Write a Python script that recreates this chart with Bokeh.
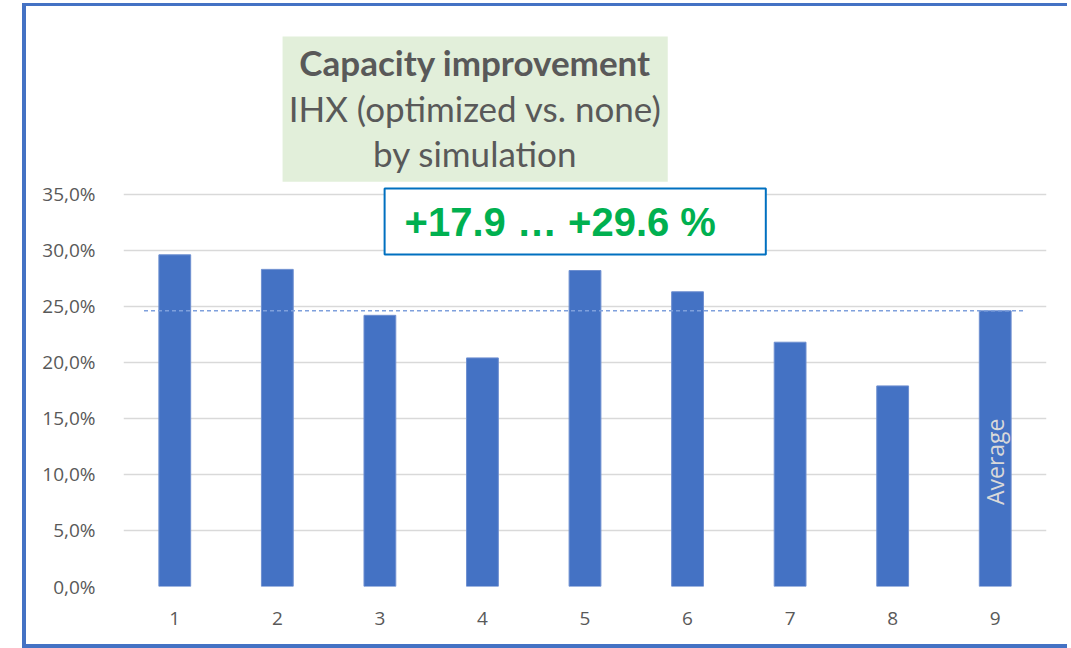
import math
from bokeh.plotting import figure
from bokeh.models import FixedTicker, Range1d, BoxAnnotation, Label
from bokeh.embed import file_html
from bokeh.resources import INLINE

# ---- data ----
cats = [1, 2, 3, 4, 5, 6, 7, 8, 9]
x_tick_labels = ["1", "2", "3", "4", "5", "6", "7", "8", "9"]
values = [29.6, 28.3, 24.2, 20.4, 28.2, 26.3, 21.8, 17.9, 24.6]   # percent
y_ticks = [0, 5, 10, 15, 20, 25, 30, 35]
y_tick_labels = ["0,0%", "5,0%", "10,0%", "15,0%", "20,0%", "25,0%", "30,0%", "35,0%"]
title_lines = ["Capacity improvement", "IHX (optimized vs. none)", "by simulation"]
range_text = "+17.9 \u2026 +29.6 %"
avg_label = "Average"
avg_value = values[-1]

BAR = "#4472C4"
GREY = "#595959"

p = figure(width=1045, height=645,
           x_range=Range1d(0.5, 9.5), y_range=Range1d(0, 51.76),
           output_backend="svg", toolbar_location=None,
           min_border_left=97, min_border_right=25,
           min_border_top=0, min_border_bottom=65)
p.outline_line_color = None
p.background_fill_color = "white"
p.border_fill_color = "white"
p.styles = {"border-left": "4px solid #4472C4",
            "border-top": "3px solid #4472C4",
            "border-bottom": "4px solid #4472C4",
            "margin-left": "22px", "margin-top": "3px",
            "overflow": "hidden"}

p.vbar(x=cats, top=values, width=0.31, fill_color=BAR, line_color="#6E8FD0", line_width=1)

# average dashed line
p.segment(x0=[cats[0] - 0.3], x1=[cats[-1] + 0.3], y0=[avg_value], y1=[avg_value],
          line_color="#7FA0DC", line_width=1.5, line_dash="4 3")

# axes
p.xgrid.visible = False
p.ygrid.grid_line_color = "#D9D9D9"
p.ygrid.grid_line_width = 1.5

p.yaxis.ticker = FixedTicker(ticks=y_ticks)
p.yaxis.major_label_overrides = {t: l for t, l in zip(y_ticks, y_tick_labels)}
p.xaxis.ticker = FixedTicker(ticks=cats)
p.xaxis.major_label_overrides = {c: l for c, l in zip(cats, x_tick_labels)}
for ax in (p.xaxis, p.yaxis):
    ax.axis_line_color = None
    ax.major_tick_line_color = None
    ax.minor_tick_line_color = None
    ax.major_label_text_font = "Open Sans"
    ax.major_label_text_font_size = "19px"
    ax.major_label_text_color = GREY
p.yaxis.major_label_standoff = 22
p.xaxis.major_label_standoff = 19

# title box
box_l, box_r = 2.051, 5.807
p.add_layout(BoxAnnotation(left=box_l, right=box_r, bottom=36.13, top=49.08,
                           fill_color="#E2EFDA", fill_alpha=1, line_color=None))
tx = (box_l + box_r) / 2
for i, (txt, yy) in enumerate(zip(title_lines, [46.85, 42.68, 38.66])):
    p.add_layout(Label(x=tx, y=yy, text=txt, text_align="center", text_baseline="alphabetic",
                       text_font="Lato", text_font_size="35px",
                       text_font_style="bold" if i == 0 else "normal",
                       text_color=GREY))

# range box
p.add_layout(BoxAnnotation(left=3.046, right=6.763, bottom=29.62, top=35.51,
                           fill_color="white", fill_alpha=1,
                           line_color="#0070C0", line_alpha=1, line_width=2))
p.add_layout(Label(x=3.241, y=32.56, text=range_text, text_align="left",
                   text_baseline="alphabetic", text_font="Liberation Sans",
                   text_font_size="40px", text_font_style="bold", text_color="#00B050"))

# Average label inside last bar
p.add_layout(Label(x=cats[-1], y=11.13, text=avg_label, angle=math.pi / 2,
                   text_align="center", text_baseline="middle",
                   text_font="Open Sans", text_font_size="23px", text_color="#D9D9D9"))

open("out.html", "w").write(file_html(p, INLINE))
